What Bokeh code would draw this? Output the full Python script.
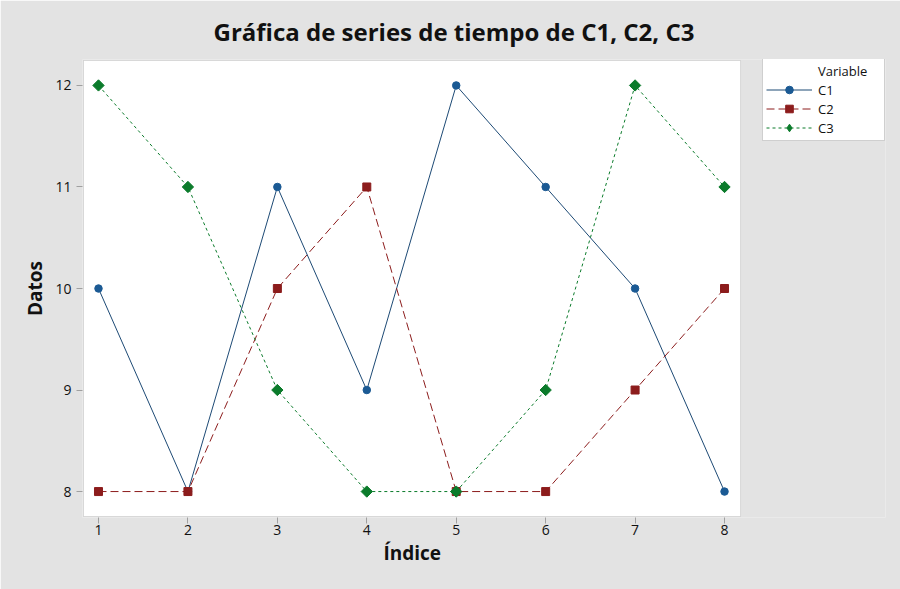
import math
from bokeh.plotting import figure
from bokeh.models import FixedTicker, Legend, LegendItem, BoxAnnotation, Title
from bokeh.embed import file_html
from bokeh.resources import INLINE

indice = [1, 2, 3, 4, 5, 6, 7, 8]
c1 = [10, 8, 11, 9, 12, 11, 10, 8]
c2 = [8, 8, 10, 11, 8, 8, 9, 10]
c3 = [12, 11, 9, 8, 8, 9, 12, 11]
x_ticks = [1, 2, 3, 4, 5, 6, 7, 8]
y_ticks = [8, 9, 10, 11, 12]
series_names = ["C1", "C2", "C3"]
legend_title = "Variable"

FONT = "Open Sans"
BG = "#e3e3e3"
EDGE = "#a0a0a0"

# frame covers plot area + legend area; the white plotting area is drawn as a box
p = figure(width=900, height=589, output_backend="svg", toolbar_location=None,
           x_range=(0.8211, 9.80), y_range=(7.7445, 12.2555),
           min_border_left=82, min_border_right=15, min_border_top=58, min_border_bottom=72)
p.background_fill_color = BG
p.background_fill_alpha = 1
p.border_fill_color = BG
p.outline_line_color = None
p.grid.visible = False

p.add_layout(BoxAnnotation(left=0.8323, right=8.179, bottom=7.7543, top=12.2457,
                           fill_color="white", fill_alpha=1, line_color=EDGE,
                           line_width=1, level="underlay"))

p.title.text = "Gráfica de series de tiempo de C1, C2, C3"
p.title.text_font = FONT
p.title.text_font_size = "24px"
p.title.text_font_style = "bold"
p.title.text_color = "#111111"
p.title.align = "left"
p.title.offset = 131
p.title.standoff = 24

for ax in (p.xaxis[0], p.yaxis[0]):
    ax.axis_line_color = None
    ax.major_tick_line_color = EDGE
    ax.major_tick_out = 6
    ax.major_tick_in = 0
    ax.minor_tick_line_color = None
    ax.major_label_text_font = FONT
    ax.major_label_text_font_size = "14px"
    ax.major_label_text_color = "#111111"
    ax.axis_label_text_font = FONT
    ax.axis_label_text_font_size = "19px"
    ax.axis_label_text_font_style = "bold"
    ax.axis_label_text_color = "#111111"

p.xaxis.ticker = FixedTicker(ticks=x_ticks)
p.yaxis.ticker = FixedTicker(ticks=y_ticks)
p.yaxis.axis_label = "Datos"
p.xaxis.major_label_standoff = 1
p.yaxis.major_label_standoff = 5
p.yaxis.axis_label_standoff = 4

# x-axis label as a bottom title so it centres under the white plotting area
p.add_layout(Title(text="Índice", text_font=FONT, text_font_size="19px",
                   text_font_style="bold", text_color="#111111",
                   align="left", offset=301, standoff=0), "below")

col1, col2, col3 = "#1b5a94", "#8c1c1c", "#0b7b2b"
line1 = "#1d4a75"

l1 = p.line(indice, c1, line_color=line1, line_width=1)
s1 = p.scatter(indice, c1, marker="circle", size=7.5, fill_color=col1, line_color=col1)
l2 = p.line(indice, c2, line_color=col2, line_width=1, line_dash="8 4")
s2 = p.scatter(indice, c2, marker="square", size=8, fill_color=col2, line_color=col2)
l3 = p.line(indice, c3, line_color=col3, line_width=1, line_dash="3 3")
s3 = p.scatter(indice, c3, marker="square", size=8, angle=math.pi / 4,
               fill_color=col3, line_color=col3)
key3 = p.scatter(indice, c3, marker="diamond", size=0, fill_color=col3, line_color=col3)
head = p.scatter([], [], marker="circle", size=1, fill_alpha=0, line_alpha=0)

legend = Legend(items=[LegendItem(label=legend_title, renderers=[head]),
                       LegendItem(label=series_names[0], renderers=[l1, s1]),
                       LegendItem(label=series_names[1], renderers=[l2, s2]),
                       LegendItem(label=series_names[2], renderers=[l3, key3])],
                location=(680, 376),
                label_text_font=FONT, label_text_font_size="13px", label_text_color="#111111",
                glyph_width=46, glyph_height=19, label_height=19, label_standoff=6,
                label_width=63, spacing=0, padding=3, margin=0,
                border_line_color=EDGE, background_fill_color="white", background_fill_alpha=1)
p.add_layout(legend, "center")

open("out.html", "w").write(file_html(p, INLINE))
